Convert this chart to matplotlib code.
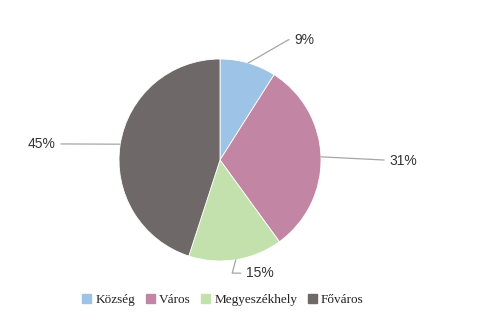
import numpy as np
import matplotlib
matplotlib.use("Agg")
from matplotlib import pyplot as plt

categories = ["Község", "Város", "Megyeszékhely", "Főváros"]
shares = [9, 31, 15, 45]
colors = ["#9dc3e6", "#c285a4", "#c3e1ac", "#6f6869"]

# label text positions (axes data units, pie radius = 1)
label_pos = [(0.74, 1.19), (1.68, -0.01), (0.26, -1.12), (-1.63, 0.16)]
label_ha = ["left", "left", "left", "right"]
connectors = ["angle,angleA=0,angleB=30,rad=0", "arc3", "angle,angleA=0,angleB=75,rad=0", "arc3"]

fig = plt.figure(figsize=(4.81, 3.18), dpi=100)
ax = fig.add_axes([119 / 481, 56 / 318, 202 / 481, 204 / 318])

wedges, _ = ax.pie(shares, colors=colors, startangle=90, counterclock=False,
                   wedgeprops=dict(linewidth=0.6, edgecolor="white"))
ax.set_xlim(-1, 1)
ax.set_ylim(-1, 1)
ax.set_aspect("equal")

for w, v, pos, ha, cs in zip(wedges, shares, label_pos, label_ha, connectors):
    ang = np.radians((w.theta1 + w.theta2) / 2)
    edge = (np.cos(ang), np.sin(ang))
    ax.annotate(f"{v}%", xy=edge, xytext=pos, ha=ha, va="center",
                fontsize=10, color="#333333", family=["Liberation Sans", "DejaVu Sans"],
                annotation_clip=False,
                arrowprops=dict(arrowstyle="-", color="#a6a6a6", lw=0.9,
                                shrinkA=2, shrinkB=0, connectionstyle=cs))

handles = [plt.Rectangle((0, 0), 1, 1, color=c) for c in colors]
fig.legend(handles, categories, loc="center", bbox_to_anchor=(223 / 481, 1 - 300 / 318),
           ncol=4, frameon=False, handlelength=0.7, handleheight=0.7,
           handletextpad=0.3, columnspacing=0.8,
           prop=dict(family="Liberation Serif", size=9.5),
           labelcolor="#222222")

fig.savefig("out.png", dpi=100, facecolor="white")
